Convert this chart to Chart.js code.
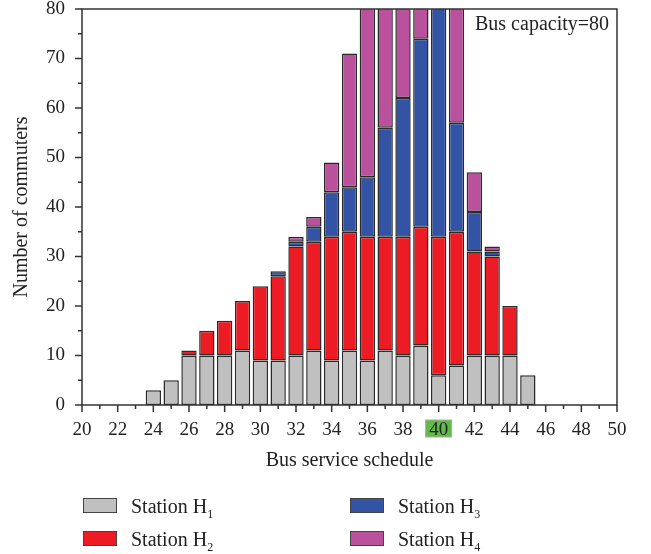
<!DOCTYPE html>
<html>
<head>
<meta charset="utf-8">
<script src="https://cdn.jsdelivr.net/npm/chart.js@4.4.0/dist/chart.umd.min.js"></script>
<style>
body{margin:0;background:#fff;}
#wrap{position:relative;width:651px;height:554px;}
.box{position:absolute;width:32px;height:13px;border:1.5px solid #444;}
.leg{position:absolute;font:20px "Liberation Serif",serif;color:#222;line-height:20px;white-space:nowrap;}
.leg sub{font-size:12px;vertical-align:-5px;line-height:0;}
</style>
</head>
<body>
<div id="wrap">
<canvas id="chart" width="651" height="554"></canvas>
</div>
<script>
// bus service schedule (x axis categories)
const schedule=[20,21,22,23,24,25,26,27,28,29,30,31,32,33,34,35,36,37,38,39,40,41,42,43,44,45,46,47,48,49,50];
// commuters per station, one value per schedule slot
const stationH1=[null,null,null,null,3,5,10,10,10,11,9,9,10,11,9,11,9,11,10,12,6,8,10,10,10,6,null,null,null,null,null];
const stationH2=[null,null,null,null,null,null,1,5,7,10,15,17,22,22,25,24,25,23,24,24,28,27,21,20,10,null,null,null,null,null,null];
const stationH3=[null,null,null,null,null,null,null,null,null,null,null,1,1,3,9,9,12,22,28,38,50,22,8,1,null,null,null,null,null,null,null];
const stationH4=[null,null,null,null,null,null,null,null,null,null,null,null,1,2,6,27,40,30,25,8,null,26,8,1,null,null,null,null,null,null,null];
const stationSubs=['1','2','3','4'];
const stationColors=['#c0c0c0','#ed1c24','#3353a5','#b9519d'];
const busCapacity=80;
const yTicks=[0,10,20,30,40,50,60,70,80];

const FONT='"Liberation Serif", serif';

// legend (HTML so the subscripts stay real text)
let wrap=document.getElementById('wrap');
const legPos=[[83,498],[83,531],[350,498],[350,531]];
stationSubs.forEach((s,i)=>{
  let b=document.createElement('div'); b.className='box';
  b.style.left=legPos[i][0]+'px'; b.style.top=legPos[i][1]+'px'; b.style.background=stationColors[i];
  wrap.appendChild(b);
  let t=document.createElement('div'); t.className='leg';
  t.style.left=(legPos[i][0]+48)+'px'; t.style.top=(legPos[i][1]-2)+'px';
  t.innerHTML='Station H<sub>'+s+'</sub>';
  wrap.appendChild(t);
});

// frame, tick marks, highlight and capacity note
const decor={
  id:'decor',
  beforeDraw(chart){
    let ctx=chart.ctx, x=chart.scales.x;
    let px=x.getPixelForValue(schedule.indexOf(40));
    ctx.save();
    ctx.fillStyle='#5fbb45'; ctx.strokeStyle='#aaa'; ctx.lineWidth=1;
    ctx.fillRect(px-13,420,26,17); ctx.strokeRect(px-13,420,26,17);
    ctx.restore();
  },
  afterDraw(chart){
    let ctx=chart.ctx, a=chart.chartArea, x=chart.scales.x, y=chart.scales.y;
    ctx.save();
    ctx.strokeStyle='#333'; ctx.lineWidth=1.5;
    ctx.strokeRect(a.left,a.top,a.right-a.left,a.bottom-a.top);
    ctx.beginPath();
    schedule.forEach((v,i)=>{
      let px=x.getPixelForValue(i);
      ctx.moveTo(px,a.bottom); ctx.lineTo(px,a.bottom+(v%2===0?7:4));
    });
    for(let v=0;v<=busCapacity;v+=5){
      let py=y.getPixelForValue(v);
      ctx.moveTo(a.left,py); ctx.lineTo(a.left-(v%10===0?7:4),py);
    }
    ctx.stroke();
    ctx.fillStyle='#222'; ctx.font='20px '+FONT; ctx.textBaseline='alphabetic';
    ctx.fillText('Bus capacity='+busCapacity,475,30);
    ctx.restore();
  }
};

const stationData=[stationH1,stationH2,stationH3,stationH4];
new Chart(document.getElementById('chart'),{
  type:'bar',
  data:{
    labels:schedule,
    datasets:stationData.map((d,i)=>({label:'Station H'+stationSubs[i],data:d,backgroundColor:stationColors[i]}))
  },
  options:{
    responsive:false, animation:false,
    layout:{padding:{left:0,top:9,right:34,bottom:79}},
    plugins:{legend:{display:false},tooltip:{enabled:false}},
    datasets:{bar:{barPercentage:0.86,categoryPercentage:1,borderWidth:1.5,borderColor:'#2b2b2b',borderSkipped:false}},
    scales:{
      x:{
        stacked:true, offset:false,
        grid:{display:false,drawTicks:false}, border:{display:false},
        ticks:{autoSkip:false,maxRotation:0,padding:14,color:'#222',font:{family:FONT,size:19},
          callback:function(v){let s=this.getLabelForValue(v); return s%2===0?s:'';}},
        title:{display:true,text:'Bus service schedule',color:'#222',font:{family:FONT,size:20},padding:{top:0,bottom:2}},
        afterFit:s=>{s.height=70; s.paddingLeft=0; s.paddingRight=0;}
      },
      y:{
        stacked:true, min:0, max:busCapacity,
        afterBuildTicks:s=>{s.ticks=yTicks.map(v=>({value:v}));},
        grid:{display:false,drawTicks:false}, border:{display:false},
        ticks:{padding:17,color:'#222',font:{family:FONT,size:19}},
        title:{display:true,text:'Number of commuters',color:'#222',font:{family:FONT,size:20},padding:{top:10,bottom:0}},
        afterFit:s=>{s.width=82; s.paddingTop=0; s.paddingBottom=0;}
      }
    }
  },
  plugins:[decor]
});
</script>
</body>
</html>
